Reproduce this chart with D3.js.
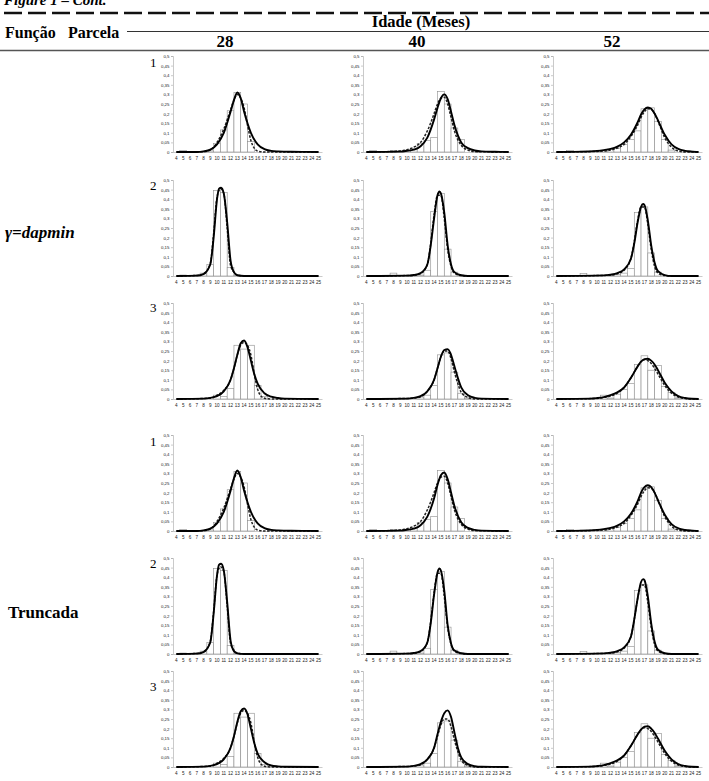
<!DOCTYPE html>
<html><head><meta charset="utf-8">
<script src="https://cdn.jsdelivr.net/npm/d3@7"></script>
<style>body{margin:0;background:#fff}svg{display:block}</style>
</head><body><svg id="c" width="709" height="781"></svg>
<script>
// ---------- labels ----------
const classes = d3.range(4, 26);              // diameter classes 4..25
const yTickValues = [0,0.05,0.1,0.15,0.2,0.25,0.3,0.35,0.4,0.45,0.5];
const ages = ["28","40","52"];
const parcelas = ["1","2","3"];
const funcoes = ["γ=dapmin","Truncada"];

// ---------- observed relative frequencies (classes 4..25) ----------
const obs_p1_28 = [0,0.008,0,0,0.004,0.006,0.045,0.115,0.215,0.31,0.25,0.055,0,0,0,0,0,0,0,0,0,0];
const obs_p1_40 = [0,0.008,0,0,0.008,0,0.01,0.02,0.045,0.06,0.075,0.315,0.25,0.125,0.065,0,0,0,0,0,0,0];
const obs_p1_52 = [0,0,0.008,0,0.005,0.005,0.005,0.01,0.015,0.02,0.04,0.065,0.11,0.225,0.23,0.16,0.065,0.01,0,0,0.005,0];
const obs_p2_28 = [0,0.005,0.003,0.005,0.015,0.06,0.445,0.435,0.045,0.005,0,0,0,0,0,0,0,0,0,0,0,0];
const obs_p2_40 = [0,0.003,0,0,0.015,0,0,0.005,0.005,0.03,0.335,0.43,0.14,0.02,0.005,0,0,0,0,0,0,0];
const obs_p2_52 = [0,0,0,0,0.012,0,0,0,0.005,0.008,0.015,0.04,0.33,0.36,0.12,0.02,0,0,0,0,0,0];
const obs_p3_28 = [0,0,0,0,0,0,0.02,0.012,0.055,0.28,0.26,0.28,0.07,0.012,0,0,0,0,0,0,0,0];
const obs_p3_40 = [0,0,0,0,0,0,0,0,0.01,0.02,0.07,0.23,0.24,0.14,0.03,0.005,0,0,0,0,0,0];
const obs_p3_52 = [0,0,0,0,0,0,0,0.02,0.005,0.025,0.05,0.08,0.18,0.225,0.15,0.175,0.065,0.035,0.005,0,0,0];

// ---------- dashed curves ([class, density]) ----------
const dash_p1_28 = [[4,0],[8,0.002],[9,0.01],[10,0.05],[11,0.12],[12,0.22],[12.5,0.27],[13,0.3],[13.5,0.28],[14,0.23],[14.5,0.14],[15,0.06],[15.5,0.02],[16,0.005],[17,0],[25,0]];
const dash_p1_40 = [[4,0],[8,0.003],[10,0.012],[11,0.025],[12,0.05],[13,0.11],[14,0.2],[14.5,0.25],[15,0.28],[15.5,0.285],[16,0.25],[16.5,0.18],[17,0.11],[18,0.035],[19,0.01],[20,0.002],[25,0]];
const dash_p1_52 = [[4,0],[10,0.003],[12,0.01],[13,0.02],[14,0.04],[15,0.08],[16,0.14],[16.5,0.18],[17,0.21],[17.5,0.225],[18,0.222],[18.5,0.2],[19,0.16],[20,0.075],[21,0.025],[22,0.005],[23,0],[25,0]];
const dash_p2_28 = [[4,0],[7,0.003],[8,0.012],[9,0.065],[9.5,0.22],[10,0.41],[10.5,0.455],[11,0.43],[11.5,0.25],[12,0.055],[12.5,0.02],[13,0.005],[14,0],[25,0]];
const dash_p2_40 = [[4,0],[11,0.003],[12,0.012],[13,0.06],[13.5,0.17],[14,0.32],[14.5,0.42],[15,0.42],[15.5,0.3],[16,0.14],[16.5,0.05],[17,0.015],[18,0.002],[19,0],[25,0]];
const dash_p2_52 = [[4,0],[12,0.004],[13,0.012],[14,0.03],[15,0.09],[15.5,0.18],[16,0.29],[16.5,0.36],[17,0.36],[17.5,0.27],[18,0.14],[18.5,0.05],[19,0.015],[20,0.002],[21,0],[25,0]];
const dash_p3_28 = [[4,0],[9,0.004],[10,0.02],[11,0.045],[12,0.1],[12.5,0.16],[13,0.23],[13.5,0.28],[14,0.295],[14.5,0.28],[15,0.23],[15.5,0.13],[16,0.05],[16.5,0.015],[17,0.004],[18,0],[25,0]];
const dash_p3_40 = [[4,0],[11,0.004],[12,0.012],[13,0.04],[14,0.1],[14.5,0.16],[15,0.22],[15.5,0.25],[16,0.25],[16.5,0.21],[17,0.14],[17.5,0.08],[18,0.035],[19,0.008],[20,0],[25,0]];
const dash_p3_52 = [[4,0],[10,0.003],[11,0.008],[12,0.015],[13,0.03],[14,0.06],[15,0.11],[16,0.17],[16.5,0.195],[17,0.205],[17.5,0.2],[18,0.185],[19,0.13],[20,0.07],[21,0.03],[22,0.01],[23,0.002],[24,0],[25,0]];

// ---------- solid curves, γ=dapmin ----------
const dap_p1_28 = [[4,0],[7,0],[8,0.003],[9,0.012],[10,0.04],[11,0.1],[12,0.21],[12.5,0.27],[13,0.31],[13.5,0.28],[14,0.21],[14.5,0.15],[15,0.1],[16,0.04],[17,0.015],[18,0.006],[19,0.003],[21,0.001],[25,0]];
const dap_p1_40 = [[4,0],[9,0.002],[10,0.006],[11,0.012],[12,0.03],[13,0.075],[14,0.17],[14.5,0.23],[15,0.28],[15.5,0.3],[16,0.275],[16.5,0.21],[17,0.14],[18,0.05],[19,0.02],[20,0.008],[21,0.003],[23,0.001],[25,0]];
const dap_p1_52 = [[4,0],[8,0.002],[10,0.006],[11,0.01],[12,0.016],[13,0.028],[14,0.05],[15,0.09],[16,0.155],[16.5,0.195],[17,0.222],[17.5,0.232],[18,0.225],[18.5,0.2],[19,0.165],[20,0.09],[21,0.04],[22,0.016],[23,0.006],[24,0.002],[25,0]];
const dap_p2_28 = [[4,0],[7,0.002],[8,0.01],[9,0.06],[9.5,0.2],[10,0.4],[10.3,0.455],[10.6,0.46],[11,0.43],[11.5,0.28],[12,0.08],[12.5,0.02],[13,0.004],[14,0],[25,0]];
const dap_p2_40 = [[4,0],[10,0.002],[11,0.005],[12,0.015],[13,0.06],[13.5,0.16],[14,0.3],[14.5,0.42],[14.8,0.44],[15,0.43],[15.5,0.33],[16,0.16],[16.5,0.06],[17,0.02],[18,0.004],[19,0],[25,0]];
const dap_p2_52 = [[4,0],[11,0.003],[12,0.007],[13,0.015],[14,0.035],[15,0.09],[15.5,0.17],[16,0.28],[16.5,0.36],[16.8,0.375],[17,0.37],[17.5,0.29],[18,0.16],[18.5,0.07],[19,0.025],[20,0.005],[21,0],[25,0]];
const dap_p3_28 = [[4,0],[8,0.002],[9,0.006],[10,0.015],[11,0.04],[12,0.1],[12.5,0.16],[13,0.23],[13.5,0.29],[14,0.305],[14.5,0.27],[15,0.2],[15.5,0.13],[16,0.08],[17,0.03],[18,0.012],[19,0.005],[20,0.002],[25,0]];
const dap_p3_40 = [[4,0],[10,0.002],[11,0.006],[12,0.015],[13,0.04],[14,0.1],[14.5,0.16],[15,0.22],[15.5,0.255],[16,0.26],[16.5,0.23],[17,0.17],[17.5,0.11],[18,0.06],[19,0.02],[20,0.006],[21,0.002],[25,0]];
const dap_p3_52 = [[4,0],[9,0.002],[10,0.005],[11,0.01],[12,0.02],[13,0.035],[14,0.06],[15,0.11],[16,0.17],[16.5,0.195],[17,0.208],[17.5,0.21],[18,0.2],[18.5,0.18],[19,0.15],[20,0.085],[21,0.04],[22,0.015],[23,0.005],[24,0.001],[25,0]];

// ---------- solid curves, Truncada ----------
const tr_p1_28 = [[4,0],[7,0],[8,0.003],[9,0.012],[10,0.04],[11,0.1],[12,0.21],[12.5,0.275],[13,0.315],[13.5,0.28],[14,0.21],[14.5,0.15],[15,0.1],[16,0.04],[17,0.015],[18,0.006],[19,0.003],[21,0.001],[25,0]];
const tr_p1_40 = [[4,0],[9,0.002],[10,0.006],[11,0.012],[12,0.03],[13,0.075],[14,0.17],[14.5,0.24],[15,0.29],[15.5,0.305],[16,0.27],[16.5,0.2],[17,0.13],[18,0.045],[19,0.016],[20,0.006],[21,0.002],[25,0]];
const tr_p1_52 = [[4,0],[8,0.002],[10,0.006],[11,0.01],[12,0.016],[13,0.028],[14,0.05],[15,0.09],[16,0.155],[16.5,0.2],[17,0.228],[17.5,0.238],[18,0.228],[18.5,0.2],[19,0.16],[20,0.085],[21,0.036],[22,0.014],[23,0.005],[24,0.002],[25,0]];
const tr_p2_28 = [[4,0],[7,0.002],[8,0.01],[9,0.06],[9.5,0.21],[10,0.41],[10.3,0.465],[10.6,0.47],[11,0.435],[11.5,0.27],[12,0.07],[12.5,0.015],[13,0.003],[14,0],[25,0]];
const tr_p2_40 = [[4,0],[10,0.002],[11,0.005],[12,0.015],[13,0.06],[13.5,0.16],[14,0.31],[14.5,0.425],[14.8,0.445],[15,0.435],[15.5,0.33],[16,0.15],[16.5,0.055],[17,0.018],[18,0.004],[19,0],[25,0]];
const tr_p2_52 = [[4,0],[11,0.003],[12,0.007],[13,0.015],[14,0.035],[15,0.09],[15.5,0.18],[16,0.29],[16.5,0.375],[16.8,0.39],[17,0.385],[17.5,0.3],[18,0.16],[18.5,0.065],[19,0.022],[20,0.004],[21,0],[25,0]];
const tr_p3_28 = [[4,0],[8,0.002],[9,0.006],[10,0.015],[11,0.04],[12,0.1],[12.5,0.16],[13,0.235],[13.5,0.29],[14,0.305],[14.5,0.275],[15,0.2],[15.5,0.125],[16,0.07],[17,0.025],[18,0.008],[19,0.003],[20,0.001],[25,0]];
const tr_p3_40 = [[4,0],[10,0.002],[11,0.006],[12,0.015],[13,0.04],[14,0.1],[14.5,0.17],[15,0.235],[15.5,0.28],[16,0.295],[16.5,0.26],[17,0.18],[17.5,0.1],[18,0.05],[19,0.015],[20,0.004],[21,0.001],[25,0]];
const tr_p3_52 = [[4,0],[9,0.002],[10,0.005],[11,0.01],[12,0.02],[13,0.035],[14,0.06],[15,0.11],[16,0.17],[16.5,0.195],[17,0.21],[17.5,0.212],[18,0.2],[18.5,0.178],[19,0.148],[20,0.085],[21,0.04],[22,0.015],[23,0.005],[24,0.001],[25,0]];

// ---------- tables built from the arrays ----------
const obsTable = [[obs_p1_28,obs_p1_40,obs_p1_52],[obs_p2_28,obs_p2_40,obs_p2_52],[obs_p3_28,obs_p3_40,obs_p3_52]];
const dashTable = [[dash_p1_28,dash_p1_40,dash_p1_52],[dash_p2_28,dash_p2_40,dash_p2_52],[dash_p3_28,dash_p3_40,dash_p3_52]];
const solidTable = [
  [[dap_p1_28,dap_p1_40,dap_p1_52],[dap_p2_28,dap_p2_40,dap_p2_52],[dap_p3_28,dap_p3_40,dap_p3_52]],
  [[tr_p1_28,tr_p1_40,tr_p1_52],[tr_p2_28,tr_p2_40,tr_p2_52],[tr_p3_28,tr_p3_40,tr_p3_52]]
];

// ---------- layout ----------
const svg = d3.select("#c");
const serif = "'Liberation Serif','Times New Roman',serif";
const sans = "'Liberation Sans',Arial,sans-serif";

svg.append("text").attr("x",4).attr("y",5).attr("font-family",serif).attr("font-style","italic")
  .attr("font-weight","bold").attr("font-size",15).text("Figure 1 – Cont.");
svg.append("line").attr("x1",4).attr("x2",709).attr("y1",13).attr("y2",13)
  .attr("stroke","#111").attr("stroke-width",2.5).attr("stroke-dasharray","18,6");

svg.append("text").attr("x",5).attr("y",38).attr("font-family",serif).attr("font-weight","bold").attr("font-size",16).text("Função");
svg.append("text").attr("x",68).attr("y",38).attr("font-family",serif).attr("font-weight","bold").attr("font-size",16).text("Parcela");
svg.append("line").attr("x1",127).attr("x2",709).attr("y1",31.5).attr("y2",31.5).attr("stroke","#333").attr("stroke-width",1.2);
svg.append("text").attr("x",421).attr("y",27).attr("text-anchor","middle").attr("font-family",serif).attr("font-weight","bold").attr("font-size",16.5).text("Idade (Meses)");
const headX = [225, 417, 612];
ages.forEach((a,i)=>svg.append("text").attr("x",headX[i]).attr("y",47).attr("text-anchor","middle")
  .attr("font-family",serif).attr("font-weight","bold").attr("font-size",17).text(a));
svg.append("line").attr("x1",0).attr("x2",709).attr("y1",50.5).attr("y2",50.5).attr("stroke","#555").attr("stroke-width",1.5);

const colX = [173, 363, 553];
const plotW = 149;
const rowTop = [56, 180, 303, 435, 558, 671];
const plotH = 96;
const parcelaY = [62, 185, 307, 441, 563, 686];

svg.append("text").attr("x",5).attr("y",238).attr("font-family",serif).attr("font-weight","bold").attr("font-style","italic").attr("font-size",17).text(funcoes[0]);
svg.append("text").attr("x",8).attr("y",618).attr("font-family",serif).attr("font-weight","bold").attr("font-size",17).text(funcoes[1]);

const fmt = v => String(+v.toFixed(2)).replace(".", ",");

funcoes.forEach((f, fi) => {
  parcelas.forEach((p, pi) => {
    const r = fi*3 + pi;
    svg.append("text").attr("x",150).attr("y",parcelaY[r]+5).attr("font-family",serif).attr("font-size",13).text(p);
    ages.forEach((a, ai) => {
      const g = svg.append("g").attr("transform", `translate(${colX[ai]},${rowTop[r]})`);
      const x = d3.scaleBand().domain(classes).range([0, plotW]).padding(0);
      const xc = d3.scaleLinear().domain([4,25]).range([x(4)+x.bandwidth()/2, x(25)+x.bandwidth()/2]);
      const y = d3.scaleLinear().domain([0,0.5]).range([plotH,0]);
      // y axis
      const ya = g.append("g").call(d3.axisLeft(y).tickValues(yTickValues).tickFormat(fmt).tickSize(2).tickPadding(1.5));
      ya.select(".domain").attr("stroke","#a6a6a6").attr("stroke-width",0.6);
      ya.selectAll(".tick line").attr("stroke","#a6a6a6").attr("stroke-width",0.6);
      ya.selectAll("text").attr("font-family",sans).attr("font-size",4.4).attr("fill","#222");
      // bars
      const vals = obsTable[pi][ai];
      g.selectAll("rect.bar").data(classes.map((c,i)=>({c, v: vals[i]})).filter(d=>d.v>0)).join("rect")
        .attr("x", d=>x(d.c)).attr("width", x.bandwidth())
        .attr("y", d=>y(d.v)).attr("height", d=>plotH - y(d.v))
        .attr("fill","#fff").attr("stroke","#8c8c8c").attr("stroke-width",0.6);
      // x axis
      const xa = g.append("g").attr("transform",`translate(0,${plotH})`).call(d3.axisBottom(x).tickSize(0).tickPadding(4.5));
      xa.select(".domain").attr("stroke","#a6a6a6").attr("stroke-width",0.6);
      xa.selectAll("text").attr("font-family",sans).attr("font-size",4.6).attr("fill","#222");
      // curves
      const line = d3.line().x(d=>xc(d[0])).y(d=>y(d[1])).curve(d3.curveMonotoneX);
      g.append("path").datum(dashTable[pi][ai]).attr("d",line).attr("fill","none")
        .attr("stroke","#222").attr("stroke-width",1.5).attr("stroke-dasharray","2.5,1.5");
      g.append("path").datum(solidTable[fi][pi][ai]).attr("d",line).attr("fill","none")
        .attr("stroke","#000").attr("stroke-width",1.9);
    });
  });
});
</script></body></html>
